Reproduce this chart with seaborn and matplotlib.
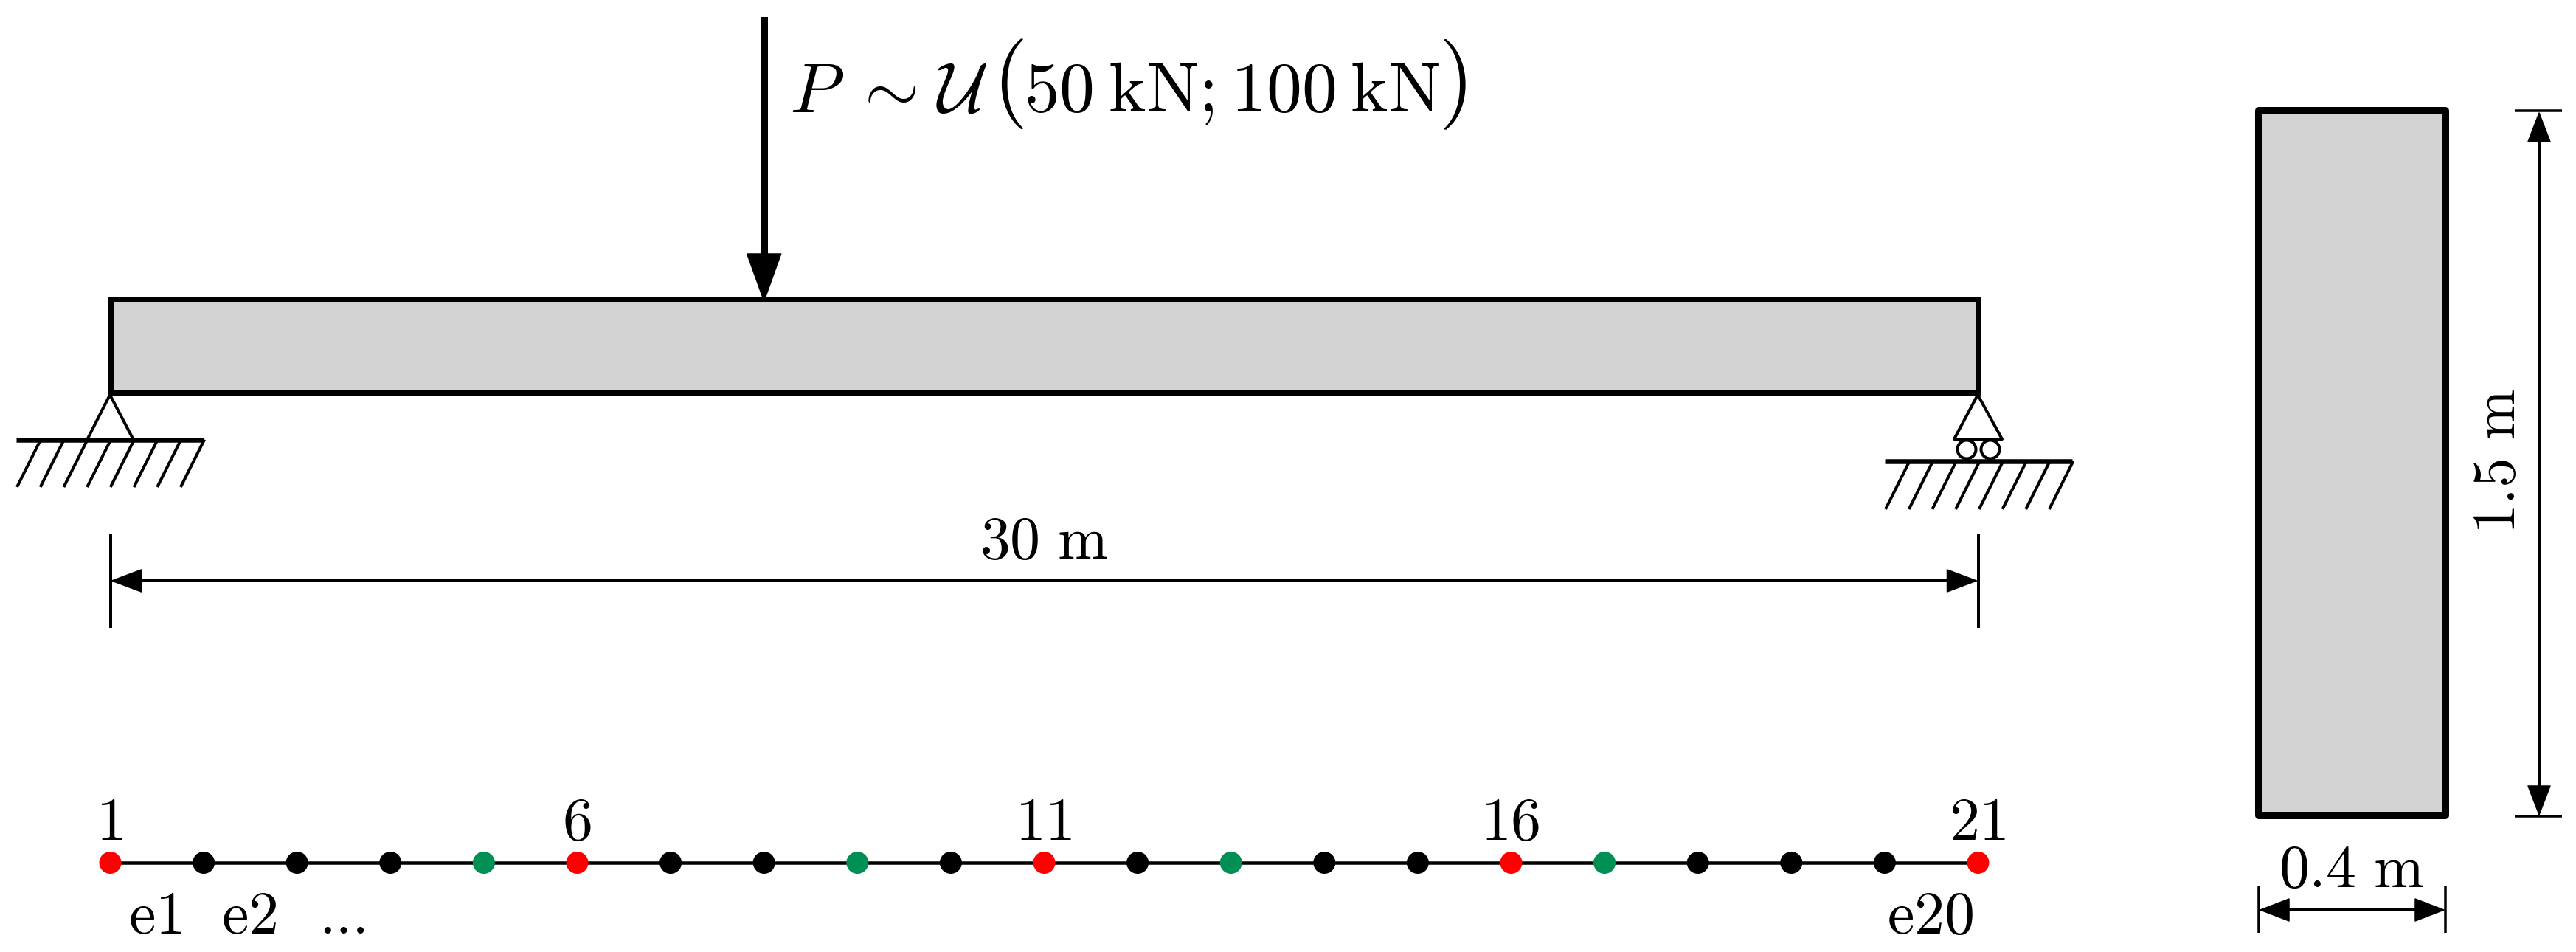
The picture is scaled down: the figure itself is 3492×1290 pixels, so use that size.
import matplotlib
matplotlib.use('Agg')
import matplotlib.pyplot as plt
from matplotlib.patches import Polygon, Rectangle, Circle
import pandas as pd
import seaborn as sns

# Beam data in metres
beam_length = 30.0
section_height = 1.5
section_width = 0.4
load_position = 10.5

node_ids = [1, 2, 3, 4, 5, 6, 7, 8, 9, 10, 11, 12, 13, 14, 15, 16, 17, 18, 19, 20, 21]
node_pos = [0.0, 1.5, 3.0, 4.5, 6.0, 7.5, 9.0, 10.5, 12.0, 13.5, 15.0,
            16.5, 18.0, 19.5, 21.0, 22.5, 24.0, 25.5, 27.0, 28.5, 30.0]
node_kind = ['a', 'b', 'b', 'b', 'c', 'a', 'b', 'b', 'c', 'b', 'a',
             'b', 'c', 'b', 'b', 'a', 'c', 'b', 'b', 'b', 'a']
labelled_nodes = [1, 6, 11, 16, 21]
element_labels = ['e1', 'e2', 'e20']
element_pos = [0.75, 2.25, 29.25]
dots_pos = 3.75

load_symbol = r'$P\;\sim\hspace{0.09}\mathcal{U}$'
load_range = r'$50\:\mathrm{kN}; 100\:\mathrm{kN}$'
span_text = r'$\mathrm{30\ m}$'
height_text = r'$\mathrm{1.5\ m}$'
width_text = r'$\mathrm{0.4\ m}$'

sns.set_theme(style='white')
plt.rcParams['mathtext.fontset'] = 'cm'
plt.rcParams['text.color'] = 'black'

W, H = 3492, 1290
fig = plt.figure(figsize=(W / 100, H / 100), dpi=100, facecolor='white')
ax = fig.add_axes([0, 0, 1, 1])

PT = 0.72  # pt per pixel at dpi 100
X0 = 149.5
M = (2681.5 - 149.5) / beam_length  # px per metre
NODE_Y = 1169
S_X0, S_X1 = 3062, 3315
S_Y0, S_Y1 = 150, 1105
FS = 59


def to_px(m):
    return X0 + m * M


def line(xs, ys, w=4, z=3):
    ax.plot(xs, ys, color='black', lw=w * PT, solid_capstyle='butt', zorder=z)


def head(tip, dx, dy, half, z=4):
    # dx, dy point from tip back to the base of the arrow head
    x, y = tip
    if dx == 0:
        pts = [(x, y), (x - half, y + dy), (x + half, y + dy)]
    else:
        pts = [(x, y), (x + dx, y - half), (x + dx, y + half)]
    ax.add_patch(Polygon(pts, closed=True, fc='black', ec='black', lw=1.5 * PT,
                         joinstyle='round', zorder=z))


def ground(x_start, y, y_bottom):
    line([x_start, x_start + 254], [y, y], w=6.5)
    for i in range(8):
        xb = x_start + 1 + i * 31.7
        line([xb, xb + (y_bottom - y) * 0.5], [y_bottom, y], w=4)


# beam
ax.add_patch(Rectangle((to_px(0), 404.5), to_px(beam_length) - to_px(0), 127.5, fc='#d3d3d3',
                       ec='black', lw=7 * PT, joinstyle='miter', zorder=2))

# load arrow
x_load = to_px(load_position)
line([x_load, x_load], [23, 346], w=10, z=3)
head((x_load, 408), 0, -64, 23)
ax.text(1070, 151, load_symbol, fontsize=69, ha='left', va='baseline')
ax.text(1345, 144, '(', fontsize=88, family='cmr10', ha='left', va='baseline')
ax.text(1388, 151, load_range, fontsize=69, ha='left', va='baseline')
ax.text(1950, 144, ')', fontsize=88, family='cmr10', ha='left', va='baseline')

# pinned support
ax.add_patch(Polygon([(149, 535), (118, 596), (181, 596)], closed=True, fc='white',
                     ec='black', lw=4 * PT, zorder=1))
ground(22, 595.5, 660)

# roller support
ax.add_patch(Polygon([(2681, 535), (2649, 595), (2714, 595)], closed=True, fc='white',
                     ec='black', lw=4 * PT, joinstyle='round', zorder=1))
for cx in [2666, 2698]:
    ax.add_patch(Circle((cx, 609), 12.5, fc='white', ec='black', lw=4 * PT, zorder=1))
ground(2555, 625, 690)

# span dimension
line([to_px(0), to_px(0)], [723, 851])
line([to_px(beam_length), to_px(beam_length)], [723, 851])
line([to_px(0) + 30, to_px(beam_length) - 30], [787, 787])
head((to_px(0) + 2, 787), 40, 0, 15)
head((to_px(beam_length) - 2, 787), -40, 0, 15)
ax.text((to_px(0) + to_px(beam_length)) / 2, 757, span_text, fontsize=FS, ha='center', va='baseline')

# discretisation
nodes = pd.DataFrame({'x': [to_px(p) for p in node_pos], 'y': [NODE_Y] * len(node_pos), 'kind': node_kind})
sns.lineplot(data=nodes, x='x', y='y', color='black', lw=4.5 * PT, errorbar=None, ax=ax, zorder=3)
sns.scatterplot(data=nodes, x='x', y='y', hue='kind', s=466, linewidth=0, legend=False, ax=ax, zorder=4,
                palette={'a': '#ff0000', 'b': '#000000', 'c': '#008f54'})
for n, p in zip(node_ids, node_pos):
    if n in labelled_nodes:
        ax.text(to_px(p) - 1, 1138, r'$\mathrm{%d}$' % n, fontsize=FS, ha='center', va='baseline')
for lab, p in zip(element_labels, element_pos):
    ax.text(to_px(p) - 2, 1265, r'$\mathrm{%s}$' % lab, fontsize=FS, ha='center', va='baseline')
ax.text(to_px(dots_pos), 1265, '...', fontsize=FS, family='cmr10', ha='center', va='baseline')

# cross section
ax.add_patch(Rectangle((S_X0, S_Y0), S_X1 - S_X0, S_Y1 - S_Y0, fc='#d3d3d3', ec='black',
                       lw=10 * PT, joinstyle='round', zorder=2))

# section height dimension
DX = 3442
line([3409, 3473], [S_Y0, S_Y0], w=3.5)
line([3409, 3473], [S_Y1 + 1, S_Y1 + 1], w=3.5)
line([DX, DX], [S_Y0 + 30, S_Y1 - 30])
head((DX, S_Y0 + 3), 0, 39, 15)
head((DX, S_Y1 - 1), 0, -39, 15)
ax.text(3409, 625, height_text, fontsize=FS, rotation=90, ha='center', va='baseline',
        rotation_mode='anchor')

# section width dimension
DY = 1233
line([S_X0, S_X0], [1201, 1264], w=3.5)
line([S_X1, S_X1], [1201, 1264], w=3.5)
line([S_X0 + 30, S_X1 - 30], [DY, DY])
head((S_X0 + 2, DY), 39, 0, 15)
head((S_X1 - 2, DY), -39, 0, 15)
ax.text(3188, 1202, width_text, fontsize=FS, ha='center', va='baseline')

ax.set_xlim(0, W)
ax.set_ylim(H, 0)
ax.axis('off')

fig.savefig('out.png', dpi=100, facecolor='white')
